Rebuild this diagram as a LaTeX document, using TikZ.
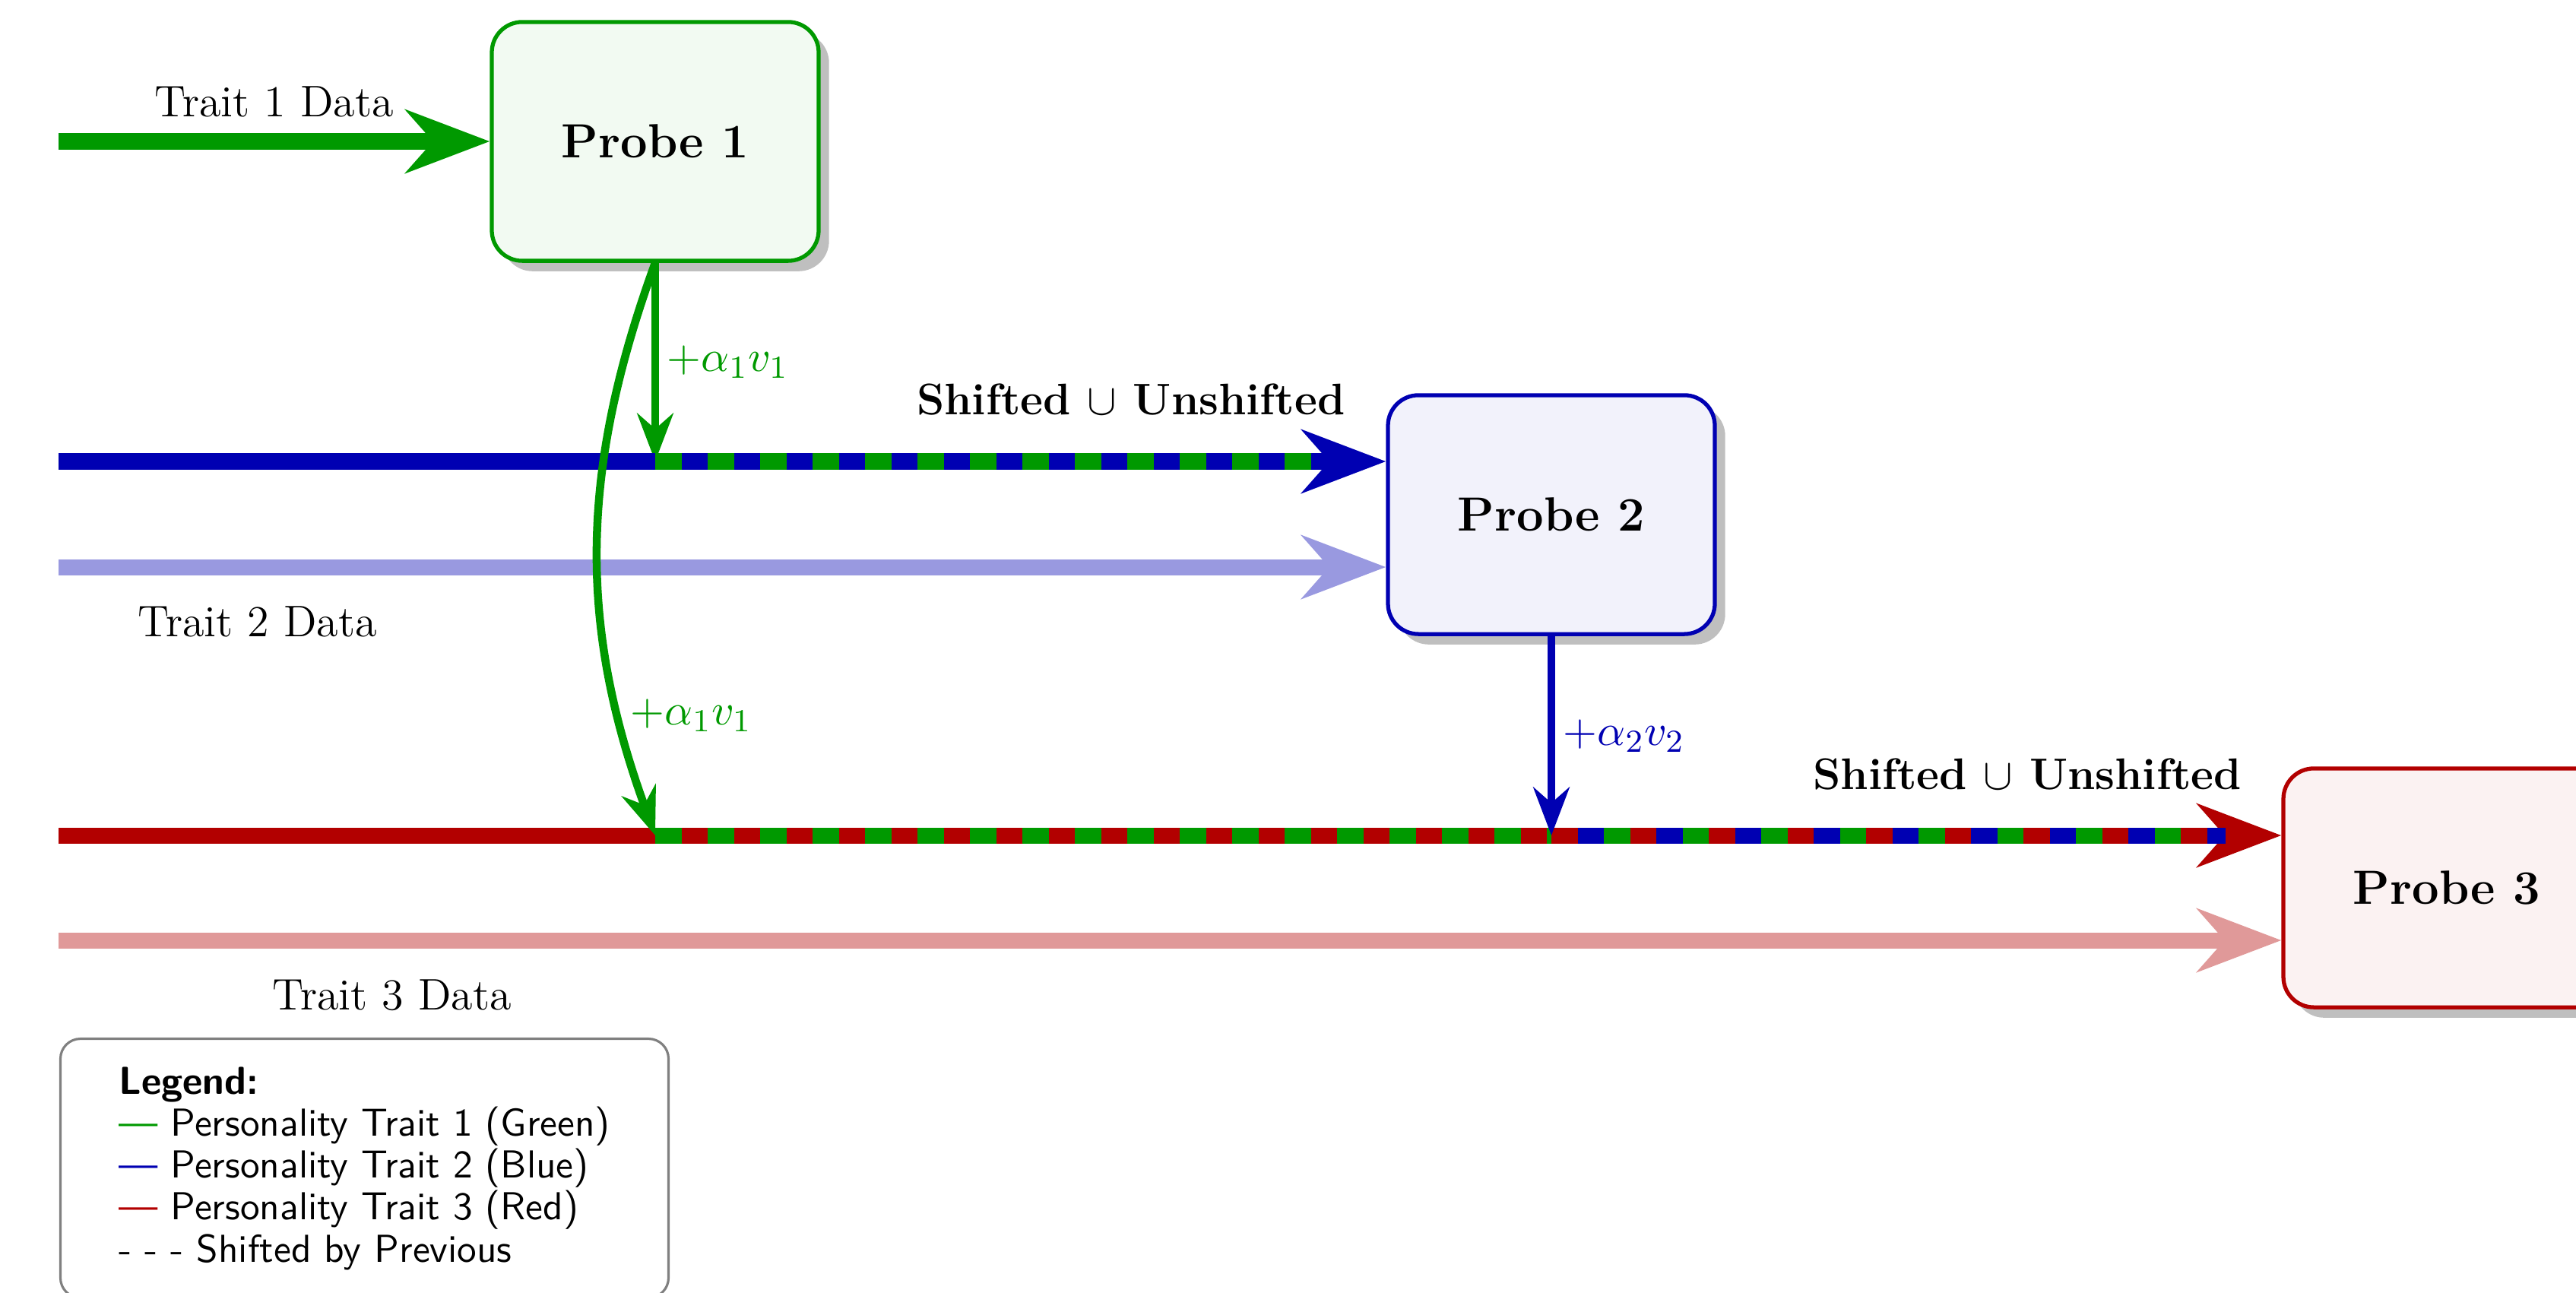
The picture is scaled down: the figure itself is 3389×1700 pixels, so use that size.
\documentclass[tikz,border=0pt]{standalone}
\usetikzlibrary{arrows.meta,shadows,calc}
\colorlet{tG}{green!60!black}
\colorlet{tB}{blue!70!black}
\colorlet{tR}{red!70!black}
\begin{document}
\begin{tikzpicture}[x=0.19pt, y=-0.19pt,
  font=\fontsize{11.05}{13.6}\selectfont,
  probe/.style={draw=#1, fill=#1!5, line width=1pt, rounded corners=7.6pt,
    minimum width=81.7pt, minimum height=59.7pt, inner sep=0pt,
    font=\fontsize{12}{14.5}\selectfont\bfseries,
    drop shadow={shadow xshift=2.6pt, shadow yshift=-2.6pt}},
  feed/.style={line width=4pt, -{Stealth}},
  dashseg/.style={line width=4pt, dash pattern=on 6.555pt off 6.555pt},
  triseg/.style={line width=4pt, dash pattern=on 6.555pt off 13.11pt, dash phase=#1},
  shiftarrow/.style={line width=2pt, -{Stealth}},
  shiftlbl/.style={anchor=west, inner sep=2pt},
  datalbl/.style={anchor=base, inner sep=0pt},
  unionlbl/.style={anchor=base, inner sep=0pt, font=\fontsize{11.05}{13.6}\selectfont\bfseries},
  legendbox/.style={draw=gray, line width=0.6pt, rounded corners=5pt, align=left,
    inner xsep=14.6pt, inner ysep=7pt, outer sep=0pt,
    font=\sffamily\fontsize{9.75}{10.5}\selectfont}
]
\useasboundingbox (0,0) rectangle (3389,1700);

% probes
\node[probe=tG] (p1) at (862,186) {Probe 1};
\node[probe=tB] (p2) at (2041,677) {Probe 2};
\node[probe=tR] (p3) at (3219,1168) {Probe 3};

% stream start points and junctions
\coordinate (g0) at (77,186);
\coordinate (b0) at (77,607);
\coordinate (lb0) at (77,746);
\coordinate (r0) at (77,1099);
\coordinate (lr0) at (77,1237);
\coordinate (bj) at (p1.south |- b0);
\coordinate (bt) at (p2.west |- b0);
\coordinate (lbt) at (p2.west |- lb0);
\coordinate (rj1) at (p1.south |- r0);
\coordinate (rj2) at (p2.south |- r0);
\coordinate (rt) at (p3.west |- r0);
\coordinate (lrt) at (p3.west |- lr0);

% shift from probe 1 into the trait 2 stream (tip tucked under the stream)
\draw[shiftarrow, tG] (p1.south) -- node[shiftlbl, midway] (s1) {$+\alpha_1 v_1$} (bj);

% trait 1
\draw[feed, tG] (g0) -- (p1.west);
\node[datalbl] (d1) at ($(g0)!0.5!(p1.west)+(0,-33)$) {Trait 1 Data};

% trait 2: shifted and unshifted streams
\draw[feed, tB] (b0) -- (bt);
\draw[dashseg, tG, shorten >=14pt] (bj) -- (bt);
\draw[feed, tB!40] (lb0) -- (lbt);
\node[datalbl] (d2) at ($(lb0)!0.15!(lbt)+(0,91)$) {Trait 2 Data};
\node[unionlbl] (u1) at ($(bj)!0.651!(bt)+(0,-62)$) {Shifted $\cup$ Unshifted};

% trait 3: shifted and unshifted streams
\draw[feed, tR] (r0) -- (rt);
\draw[dashseg, tG] (rj1) -- (rj2);
\draw[triseg=13.11pt, tB, shorten >=14pt] (rj2) -- (rt);
\draw[triseg=6.555pt, tG, shorten >=14pt] (rj2) -- (rt);
\draw[feed, tR!40] (lr0) -- (lrt);
\node[datalbl] (d3) at ($(lr0)!0.15!(lrt)+(0,91)$) {Trait 3 Data};
\node[unionlbl] (u2) at ($(rj2)!0.652!(rt)+(0,-61)$) {Shifted $\cup$ Unshifted};

% shifts into the trait 3 stream
\draw[shiftarrow, tG] (p1.south) to[bend right=20] node[shiftlbl, pos=0.8] (s2) {$+\alpha_1 v_1$} (rj1);
\draw[shiftarrow, tB] (p2.south) -- node[shiftlbl, midway] (s3) {$+\alpha_2 v_2$} (rj2);

% legend
\node[legendbox, anchor=north west] (lg) at (79.5,1366.5) {\textbf{Legend:}\\
  \textcolor{tG}{---} Personality Trait 1 (Green)\\
  \textcolor{tB}{---} Personality Trait 2 (Blue)\\
  \textcolor{tR}{---} Personality Trait 3 (Red)\\
  - - - Shifted by Previous};
\end{tikzpicture}
\end{document}
